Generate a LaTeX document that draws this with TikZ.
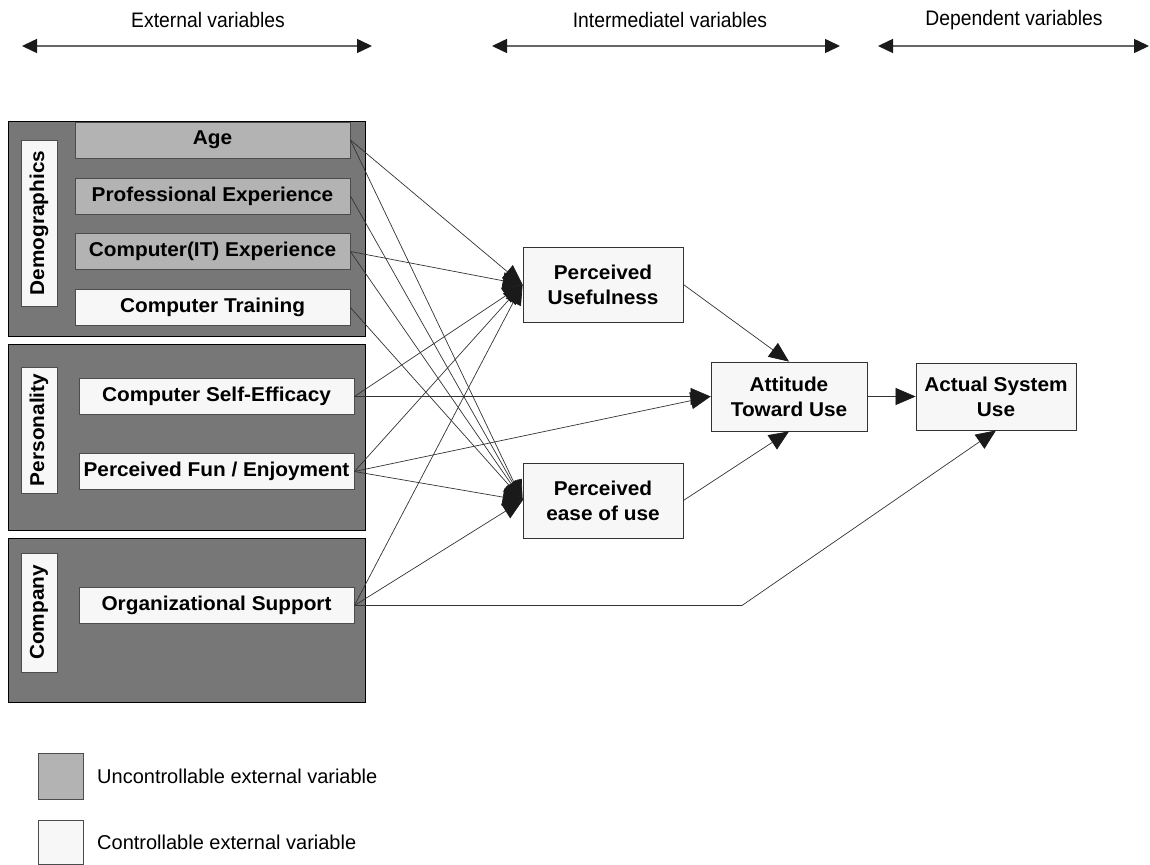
\documentclass[tikz,border=0pt]{standalone}
\usepackage{fontspec}
\setmainfont{Liberation Sans}
\newfontfamily\caixafont{Liberation Sans}[FakeStretch=1.04]
\newfontfamily\estreitafont{Liberation Sans}[FakeStretch=0.92]
\usetikzlibrary{arrows.meta}
\definecolor{cinzaescuro}{HTML}{777777}
\definecolor{cinzamedio}{HTML}{B3B3B3}
\definecolor{quasebranco}{HTML}{F7F7F7}
\definecolor{linha}{HTML}{333333}
\definecolor{ponta}{HTML}{1A1A1A}

\begin{document}
\begin{tikzpicture}[x=1pt,y=-1pt, %um ponto por pixel, eixo y para baixo
  grupo/.style={draw=black, line width=0.8pt, fill=cinzaescuro, minimum width=357pt, inner sep=0pt},
  rotulo/.style={draw=black!70, line width=0.8pt, fill=quasebranco, rotate=90, minimum height=36pt, inner sep=0pt, font={\caixafont\bfseries\fontsize{20}{24}\selectfont}},
  incontrolavel/.style={draw=black!70, line width=0.8pt, fill=cinzamedio, minimum width=275pt, minimum height=36pt, inner sep=0pt, font={\caixafont\bfseries\fontsize{20}{24}\selectfont}},
  controlavel/.style={incontrolavel, fill=quasebranco},
  construto/.style={draw=black!80, line width=0.8pt, fill=quasebranco, align=center, minimum width=160pt, inner sep=0pt, font={\caixafont\bfseries\fontsize{20}{25}\selectfont}},
  seta/.style={draw=linha, line width=0.7pt, -{Triangle[length=20pt,width=17pt,color=ponta]}},
  faixa/.style={draw=black!60, line width=1.5pt, {Triangle[length=15pt,width=14pt,color=ponta]}-{Triangle[length=15pt,width=14pt,color=ponta]}},
  cabecalho/.style={font={\estreitafont\fontsize{21}{24}\selectfont}},
  legenda/.style={anchor=west, inner sep=0pt, font={\fontsize{20}{24}\selectfont}}]

\useasboundingbox (0,0) rectangle (1150,864);

%Cabeçalho: os tres tipos de variaveis, cada um com uma seta dupla por baixo.
%---------------------------------------------------
\node[cabecalho] (tExt) at (208,20) {External variables};
\node[cabecalho] (tInt) at (670,20) {Intermediatel variables};
\node[cabecalho] (tDep) at (1014,20) {Dependent variables};
\coordinate (e1) at (22,46);
\coordinate (e2) at (372,46);
\coordinate (i1) at (492,46);
\coordinate (i2) at (840,46);
\coordinate (d1) at (878,46);
\coordinate (d2) at (1149,46);
\draw[faixa] (e1) -- (e2);
\draw[faixa] (i1) -- (i2);
\draw[faixa] (d1) -- (d2);
%---------------------------------------------------

%Os tres grupos de variaveis externas (caixas cinza escuro) com o nome na vertical.
%---------------------------------------------------
\node[grupo, minimum height=215pt] (Demo) at (186.5,228.5) {};
\node[grupo, minimum height=186pt] (Pers) at (186.5,437) {};
\node[grupo, minimum height=164pt] (Comp) at (186.5,620) {};
\node[rotulo, minimum width=166pt] (lDemo) at (39,223) {Demographics};
\node[rotulo, minimum width=126pt] (lPers) at (39,430) {Personality};
\node[rotulo, minimum width=119pt] (lComp) at (39,612.5) {Company};
%---------------------------------------------------

%Variaveis externas: cinza = nao controlavel, quase branco = controlavel.
%---------------------------------------------------
\node[incontrolavel] (Age) at (212.5,140) {Age};
\node[incontrolavel] (Prof) at (212.5,196) {Professional Experience};
\node[incontrolavel] (IT) at (212.5,251.5) {Computer(IT) Experience};
\node[controlavel] (Train) at (212.5,307.5) {Computer Training};
\node[controlavel] (Self) at (216.5,396.5) {Computer Self-Efficacy};
\node[controlavel] (Fun) at (216.5,471.5) {Perceived Fun / Enjoyment};
\node[controlavel] (Org) at (216.5,605.5) {Organizational Support};
%---------------------------------------------------

%Construtos do modelo: variaveis intermediarias e dependente.
%---------------------------------------------------
\node[construto, minimum height=75pt] (PU) at (603,284.5) {Perceived\\Usefulness};
\node[construto, minimum height=75pt] (PEOU) at (603,500.5) {Perceived\\ease of use};
\node[construto, minimum width=156pt, minimum height=69pt] (ATU) at (789,396.5) {Attitude\\Toward Use};
\node[construto, minimum height=67pt] (ASU) at (996,396.5) {Actual System\\Use};
%---------------------------------------------------

%Setas das variaveis externas para os construtos.
%---------------------------------------------------
\draw[seta] (Age.east) -- (PU.west);
\draw[seta] (Age.east) -- (PEOU.west);
\draw[seta] (Prof.east) -- (PEOU.west);
\draw[seta] (IT.east) -- (PU.west);
\draw[seta] (IT.east) -- (PEOU.west);
\draw[seta] (Train.east) -- (PEOU.west);
\draw[seta] (Self.east) -- (PU.west);
\draw[seta] (Self.east) -- (ATU.west);
\draw[seta] (Fun.east) -- (PU.west);
\draw[seta] (Fun.east) -- (ATU.west);
\draw[seta] (Fun.east) -- (PEOU.west);
\draw[seta] (Org.east) -- (PU.west);
\draw[seta] (Org.east) -- (PEOU.west);
\coordinate (dobra) at (742,605.5);
\draw[seta] (Org.east) -- (dobra) -- (ASU.south);
%---------------------------------------------------

%Setas entre os construtos.
%---------------------------------------------------
\draw[seta] (PU.east) -- (ATU.north);
\draw[seta] (PEOU.east) -- (ATU.south);
\draw[seta] (ATU.east) -- (ASU.west);
%---------------------------------------------------

%Legenda das cores.
%---------------------------------------------------
\node[draw=black!70, line width=0.8pt, fill=cinzamedio, minimum width=45pt, minimum height=46pt, inner sep=0pt] (legU) at (60.5,776) {};
\node[draw=black!70, line width=0.8pt, fill=quasebranco, minimum width=45pt, minimum height=44pt, inner sep=0pt] (legC) at (60.5,842) {};
\node[legenda] (tU) at (97,776) {Uncontrollable external variable};
\node[legenda] (tC) at (97,842) {Controllable external variable};
%---------------------------------------------------

\end{tikzpicture}
\end{document}
